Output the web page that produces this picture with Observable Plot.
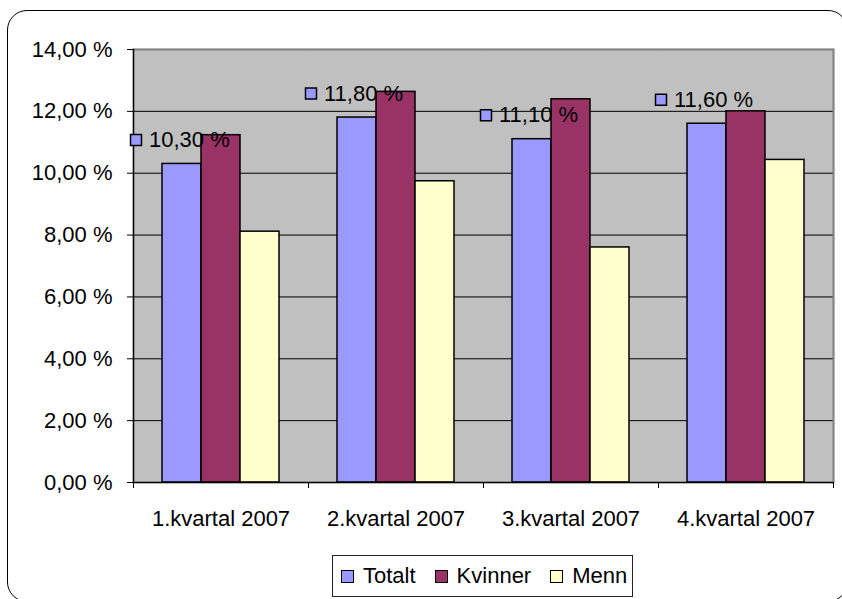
<!DOCTYPE html>
<html><head><meta charset="utf-8">
<script src="https://cdn.jsdelivr.net/npm/d3@7"></script>
<script src="https://cdn.jsdelivr.net/npm/@observablehq/plot@0.6"></script>
<style>
html,body{margin:0;padding:0;background:#fff;}
#wrap{position:relative;width:842px;height:599px;overflow:hidden;font-family:"Liberation Sans",Arial,sans-serif;}
#border{position:absolute;left:7px;top:10px;width:841px;height:592px;border:1.5px solid #000;border-radius:20px;box-sizing:border-box;}
#chart{position:absolute;left:0;top:0;}
#legend{position:absolute;left:332px;top:555px;width:301px;height:42px;box-sizing:border-box;border:1px solid #222;display:flex;align-items:center;padding-left:8px;font-size:22px;color:#000;}
.item{display:flex;align-items:center;margin-right:19px;}
.key{width:13px;height:13px;border:1.5px solid #000;margin-right:9px;box-sizing:border-box;}
</style></head><body>
<div id="wrap"><div id="border"></div><div id="chart"></div><div id="legend"></div></div>
<script>
const quarters = ["1.kvartal 2007", "2.kvartal 2007", "3.kvartal 2007", "4.kvartal 2007"];
const seriesNames = ["Totalt", "Kvinner", "Menn"];
const totalt = [10.30, 11.80, 11.10, 11.60];
const kvinner = [11.23, 12.63, 12.39, 12.00];
const menn = [8.11, 9.74, 7.60, 10.43];
const yTicks = [0, 2, 4, 6, 8, 10, 12, 14];
const colors = ["#9999FF", "#993366", "#FFFFCC"];

const fmt = v => v.toFixed(2).replace(".", ",") + " %";
const values = [totalt, kvinner, menn];
const rows = [];
quarters.forEach((q, i) => seriesNames.forEach((s, j) => rows.push({quarter: q, series: s, value: values[j][i]})));
const totalRows = rows.filter(d => d.series === "Totalt");

const W = 842, ML = 133, MR = 9;
const half = (W - ML - MR) / quarters.length / 2;

const plot = Plot.plot({
  width: W, height: 540,
  marginTop: 49, marginBottom: 58, marginLeft: ML, marginRight: MR,
  style: {fontFamily: "'Liberation Sans', Arial, sans-serif", fontSize: "22px", background: "transparent", color: "#000", overflow: "visible"},
  fx: {domain: quarters, padding: 0, label: null},
  x: {domain: seriesNames, paddingInner: 0, paddingOuter: 0.74, axis: null},
  y: {domain: [0, 14], axis: null},
  color: {domain: seriesNames, range: colors},
  marks: [
    Plot.frame({fill: "#C0C0C0", stroke: "#C0C0C0", strokeWidth: 1.5}),
    Plot.gridY(yTicks.slice(1, -1), {stroke: "#000", strokeOpacity: 1}),
    Plot.ruleY([yTicks[yTicks.length - 1]], {stroke: "#808080", strokeWidth: 2}),
    Plot.frame({anchor: "right", stroke: "#808080", strokeWidth: 2, facetAnchor: "right"}),
    Plot.barY(rows, {fx: "quarter", x: "series", y: "value", fill: "series", stroke: "#000", strokeWidth: 1.5}),
    Plot.ruleY([0], {stroke: "#000", strokeWidth: 1.5}),
    Plot.frame({anchor: "left", stroke: "#000", strokeWidth: 1.5, facetAnchor: "left"}),
    Plot.axisY(yTicks, {tickSize: 6, tickPadding: 15, tickFormat: fmt, label: null, fontSize: 22}),
    Plot.axisFx({anchor: "bottom", tickSize: 0, tickPadding: 28, label: null, fontSize: 22}),
    Plot.axisFx({anchor: "bottom", tickSize: 6, fill: "none", label: null, dx: -half}),
    Plot.axisFx({anchor: "bottom", tickSize: 6, fill: "none", label: null, dx: half}),
    Plot.dot(totalRows, {fx: "quarter", x: "series", y: "value", symbol: "square", r: 6.2, fill: "series", stroke: "#000", strokeWidth: 1.5, dx: -46, dy: -24}),
    Plot.text(totalRows, {fx: "quarter", x: "series", y: "value", text: d => fmt(d.value), textAnchor: "start", dx: -33, dy: -24, fontSize: 22, fill: "#000"})
  ]
});
document.getElementById("chart").appendChild(plot);

const legend = document.getElementById("legend");
seriesNames.forEach((s, i) => {
  const item = document.createElement("div");
  item.className = "item";
  const key = document.createElement("span");
  key.className = "key";
  key.style.background = colors[i];
  const label = document.createElement("span");
  label.textContent = s;
  item.appendChild(key);
  item.appendChild(label);
  legend.appendChild(item);
});
</script>
</body></html>
